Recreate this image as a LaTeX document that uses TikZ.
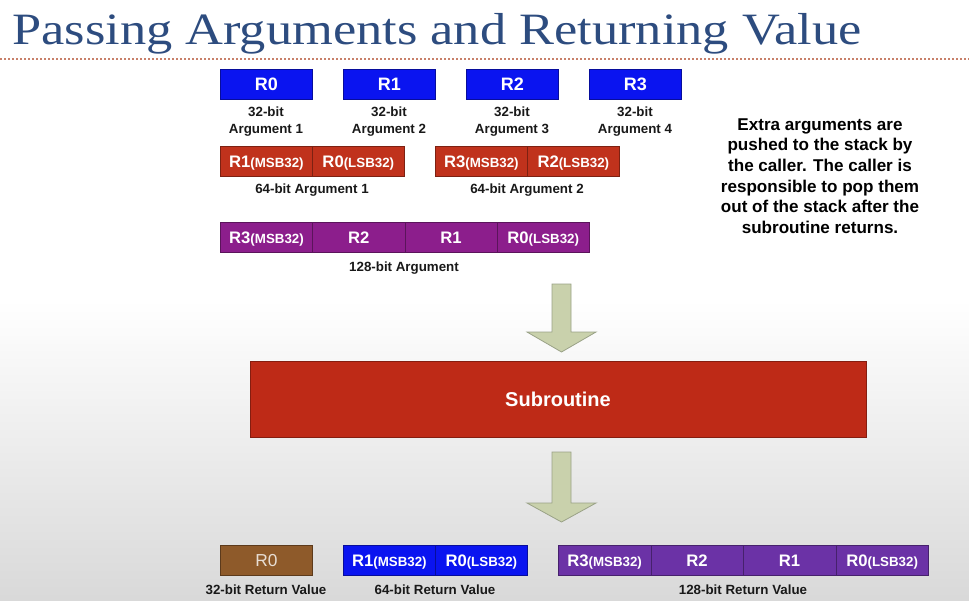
\documentclass[tikz,border=0pt]{standalone}
\usepackage{fontspec}
\setmainfont{Liberation Sans}
\newfontfamily\titlefont{Liberation Serif}
\definecolor{titleblue}{HTML}{2D4C7F}
\definecolor{regblue}{HTML}{0A14F0}
\definecolor{argred}{HTML}{C0321C}
\definecolor{subred}{HTML}{BE2A17}
\definecolor{argpurple}{HTML}{8C1E8C}
\definecolor{retpurple}{HTML}{6B32A6}
\definecolor{retbrown}{HTML}{8E5A2A}
\definecolor{arrowfill}{HTML}{C9D1AC}
\definecolor{arrowline}{HTML}{9AA287}
\definecolor{rulecol}{HTML}{C8806A}
\newcommand\halfreg[1]{{\fontsize{10}{12}\selectfont#1}}
\tikzset{
  cell/.style={draw=#1!65!black, fill=#1, line width=0.5pt, minimum height=22.5pt,
    minimum width=69pt, inner sep=0pt, text=white, anchor=north west,
    text height=9pt, text depth=0pt,
    font=\bfseries\fontsize{12.5}{14}\selectfont},
  topreg/.style={cell=regblue, text height=9.7pt, font=\bfseries\fontsize{13.5}{15}\selectfont},
  caption/.style={font=\bfseries\fontsize{10}{12.75}\selectfont, text=black!90,
    align=center, inner sep=0pt},
  blockarrow/.style={fill=arrowfill, draw=arrowline, line width=0.6pt, line join=miter}
}
\begin{document}
\begin{tikzpicture}[x=0.75pt,y=-0.75pt]
% page background: white fading into light grey towards the bottom
\fill[white] (0,0) rectangle (969,300);
\shade[top color=white, bottom color=black!15] (0,300) rectangle (969,600);
\useasboundingbox (0,0) rectangle (969,600);

% title and rule
\node[anchor=base west, inner sep=0pt, text=titleblue] (title) at (12,44)
  {\scalebox{1.17}[1]{\titlefont\fontsize{33.6}{36}\selectfont Passing Arguments and Returning Value}};
\draw[rulecol, line width=0.8pt, dash pattern=on 1.5pt off 1.5pt] (0,59) -- (969,59);

% 32-bit arguments
\node[topreg] (a0) at (220,69) {R0};
\node[topreg] (a1) at (343,69) {R1};
\node[topreg] (a2) at (466,69) {R2};
\node[topreg] (a3) at (589,69) {R3};
\node[caption] at (266,121.5) {32-bit\\Argument 1};
\node[caption] at (389,121.5) {32-bit\\Argument 2};
\node[caption] at (512,121.5) {32-bit\\Argument 3};
\node[caption] at (635,121.5) {32-bit\\Argument 4};

% 64-bit arguments
\node[cell=argred] (b1h) at (220,146) {R1\halfreg{(MSB32)}};
\node[cell=argred] (b1l) at (312,146) {R0\halfreg{(LSB32)}};
\node[cell=argred] (b2h) at (435,146) {R3\halfreg{(MSB32)}};
\node[cell=argred] (b2l) at (527,146) {R2\halfreg{(LSB32)}};
\node[caption] at (312,190) {64-bit Argument 1};
\node[caption] at (527,190) {64-bit Argument 2};

% 128-bit argument
\node[cell=argpurple, minimum width=69.2pt] (c3) at (220,222) {R3\halfreg{(MSB32)}};
\node[cell=argpurple, minimum width=69.2pt] (c2) at (312.25,222) {R2};
\node[cell=argpurple, minimum width=69.2pt] (c1) at (404.5,222) {R1};
\node[cell=argpurple, minimum width=69.2pt] (c0) at (496.75,222) {R0\halfreg{(LSB32)}};
\node[caption] at (404,268) {128-bit Argument};

% note on extra arguments
\node[font=\bfseries\fontsize{12.8}{15.5}\selectfont, align=center, inner sep=0pt] (note) at (820,176)
  {Extra arguments are\\pushed to the stack by\\the caller. The caller is\\responsible to pop them\\out of the stack after the\\subroutine returns.};

% subroutine
\node[draw=subred!70!black, fill=subred, line width=0.5pt, minimum width=462pt, minimum height=57pt,
  inner sep=0pt, text=white, font=\bfseries\fontsize{15}{18}\selectfont] (sub) at (558,399) {Subroutine};

% flow arrows
\draw[blockarrow] (552,284) -- (571,284) -- (571,332) -- (596,332) -- (561.5,352)
  -- (527,332) -- (552,332) -- cycle;
\draw[blockarrow] (552,452) -- (571,452) -- (571,503) -- (596,503) -- (561.5,522)
  -- (527,503) -- (552,503) -- cycle;

% return values
\node[cell=retbrown, text=retbrown!20!white, font=\fontsize{13}{15}\selectfont] (r32) at (220,545) {R0};
\node[caption] at (266,590) {32-bit Return Value};

\node[cell=regblue] (r64h) at (343,545) {R1\halfreg{(MSB32)}};
\node[cell=regblue] (r64l) at (435,545) {R0\halfreg{(LSB32)}};
\node[caption] at (435,590) {64-bit Return Value};

\node[cell=retpurple, minimum width=69.4pt] (r3) at (558,545) {R3\halfreg{(MSB32)}};
\node[cell=retpurple, minimum width=69.4pt] (r2) at (650.5,545) {R2};
\node[cell=retpurple, minimum width=69.4pt] (r1) at (743,545) {R1};
\node[cell=retpurple, minimum width=69.4pt] (r0) at (835.5,545) {R0\halfreg{(LSB32)}};
\node[caption] at (743,590) {128-bit Return Value};
\end{tikzpicture}
\end{document}
